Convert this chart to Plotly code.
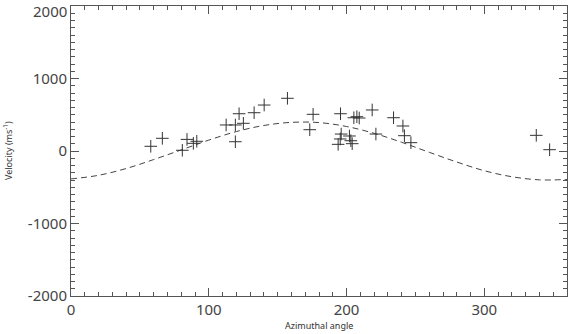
import plotly.graph_objects as go

# Observed data (azimuthal angle, velocity)
angle = [57.9, 66.3, 80.8, 84.2, 88.8, 91.3, 112.6, 119.3, 119.3, 122.0, 125.1,
         132.9, 140.2, 157.1, 173.3, 175.7, 193.9, 195.4, 195.6, 196.1, 202.1,
         203.1, 204.1, 205.3, 207.5, 209.2, 218.6, 221.3, 234.1, 240.9, 242.0,
         246.7, 337.7, 347.4]
velocity = [65, 175, 10, 160, 106, 134, 359, 359, 128, 514, 382,
            528, 634, 727, 294, 506, 92, 166, 514, 234, 207,
            142, 101, 459, 473, 455, 566, 234, 459, 345, 211,
            115, 216, 18]

# Dashed model curve
curve_angle = [0, 20, 40, 60, 80, 100, 120, 140, 160, 180, 200, 220, 240,
               260, 280, 300, 320, 340, 360]
curve_vel = [-385, -335, -242, -118, 15, 150, 268, 352, 395, 392, 338, 244,
             120, -18, -152, -272, -355, -398, -392]

x_ticks = [0, 100, 200, 300]
x_labels = ["0", "100", "200", "300"]
y_ticks = [-2000, -1000, 0, 1000]
y_labels = ["-2000", "-1000", "0", "1000"]
# top label sits on the top frame edge; drawn nudged inside the page (as in the reference)
y_top_label = "2000"

fig = go.Figure()
fig.add_trace(go.Scatter(
    x=curve_angle, y=curve_vel, mode="lines", line_shape="spline",
    line=dict(color="#444444", width=1, dash="6px,4px"), hoverinfo="skip"))
fig.add_trace(go.Scatter(
    x=angle, y=velocity, mode="markers",
    marker=dict(symbol="cross-thin", size=9,
                line=dict(color="#333333", width=1))))

tickfont = dict(family="Noto Sans", size=15, color="#444444")
axis_common = dict(
    showline=True, linecolor="#555555", linewidth=1, mirror="allticks",
    ticks="inside", tickcolor="#555555", showgrid=False, zeroline=False,
    ticklabeloverflow="allow", automargin=False, tickfont=tickfont,
)
fig.update_xaxes(range=[0, 360], tickvals=x_ticks, ticktext=x_labels, ticklen=8,
                 minor=dict(ticks="inside", dtick=10, ticklen=4,
                            tickcolor="#555555", showgrid=False),
                 **axis_common)
fig.update_yaxes(range=[-2000, 2000], tickvals=y_ticks, ticktext=y_labels, ticklen=8,
                 minor=dict(ticks="inside", dtick=100, ticklen=4,
                            tickcolor="#555555", showgrid=False),
                 **axis_common)

fig.update_layout(
    width=569, height=334, showlegend=False,
    margin=dict(l=71, r=2, t=6, b=38),
    plot_bgcolor="white", paper_bgcolor="white",
    annotations=[
        dict(text=y_top_label, xref="paper", yref="paper",
             x=-0.006, y=0.983, xanchor="right", yanchor="middle",
             showarrow=False, borderpad=0, font=tickfont),
        dict(text="Azimuthal angle", xref="paper", yref="paper",
             x=0.5, y=-0.1, yanchor="middle", xanchor="center",
             showarrow=False,
             font=dict(family="Noto Sans", size=9, color="#333333")),
        dict(text="Velocity (ms<sup>-1</sup>)", xref="paper", yref="paper",
             x=-0.127, y=0.5, xanchor="center", yanchor="middle",
             textangle=-90, showarrow=False,
             font=dict(family="Noto Sans", size=9, color="#333333")),
    ],
)
fig.write_html("out.html")
